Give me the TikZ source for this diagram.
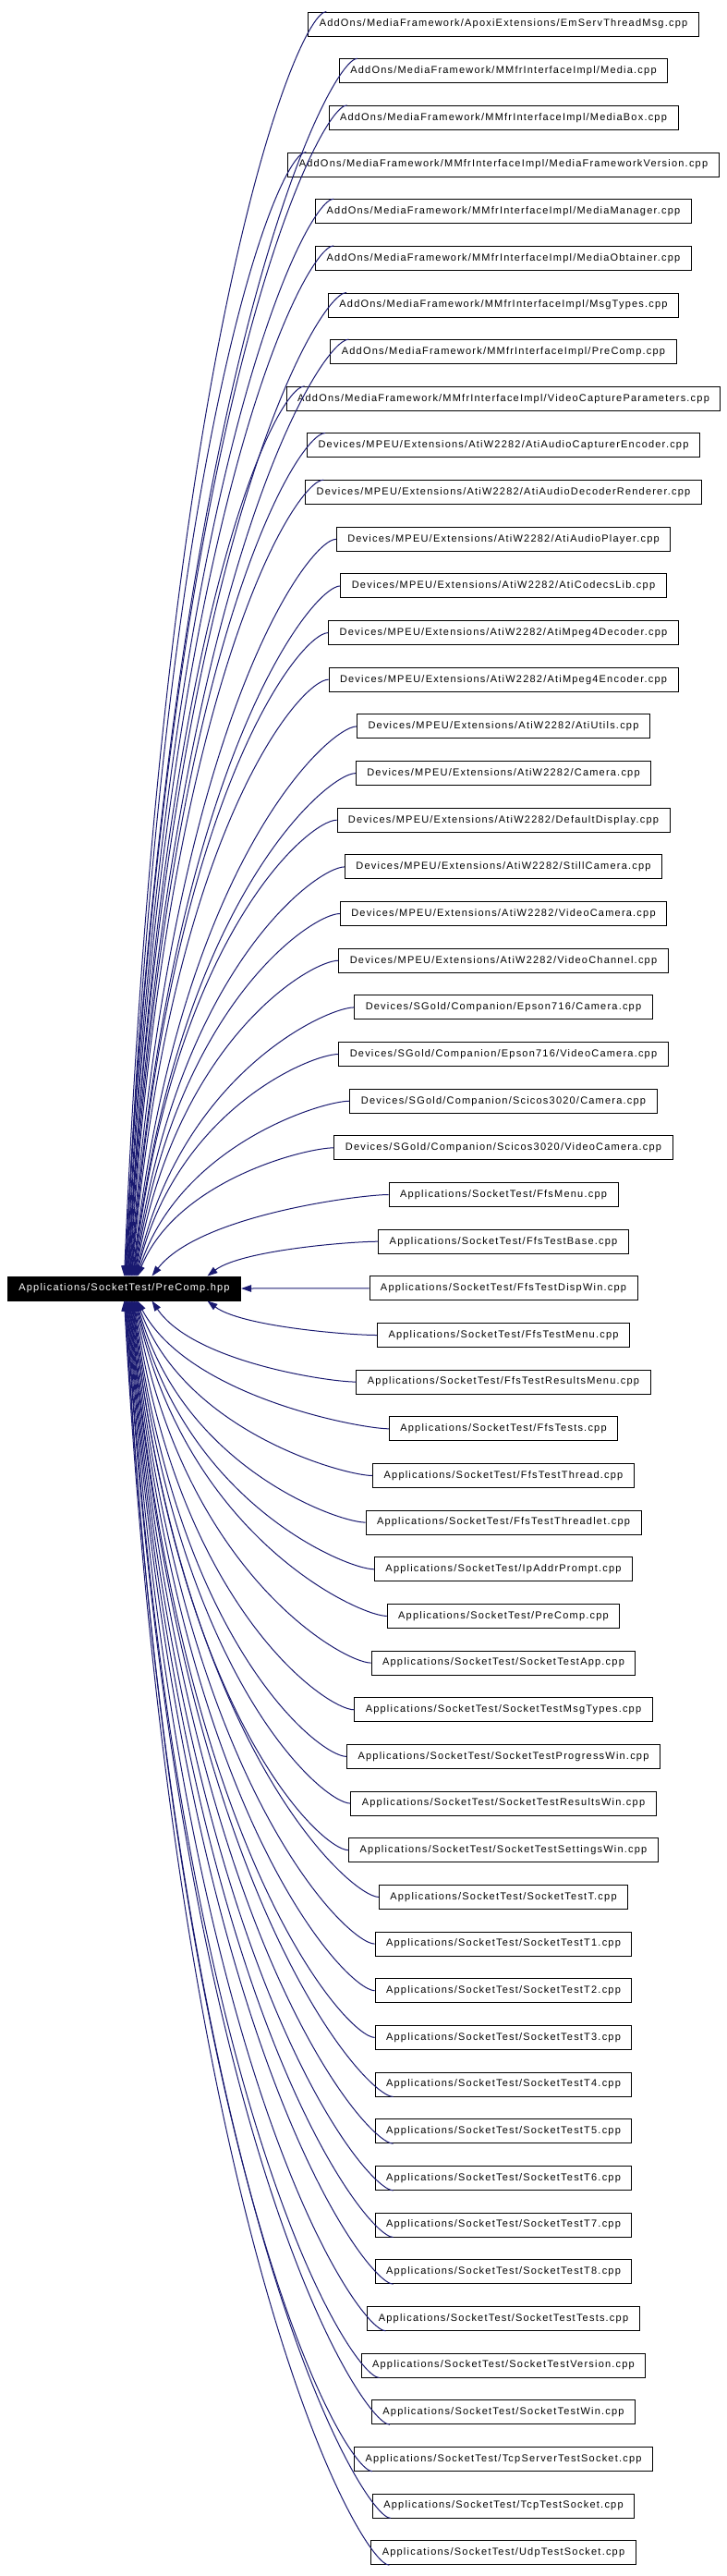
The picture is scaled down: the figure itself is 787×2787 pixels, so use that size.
\documentclass[tikz,border=0pt]{standalone}
\usepackage{fontspec}
\setmainfont{Liberation Sans}[LetterSpace=11]
\usetikzlibrary{arrows.meta,calc}
\definecolor{edgeblue}{HTML}{191970}

\begin{document}
\begin{tikzpicture}[
        x=1pt, y=1pt,
        fileblock/.style={
            rectangle,
            draw,
            line width=0.9pt,
            align=center,
            minimum height=26pt,
            font=\fontsize{11}{13}\selectfont,
            inner xsep=12pt,
            inner ysep=2pt
        },
        mainblock/.style={
            fileblock,
            fill=black,
            text=white
        },
        arrow/.style={
            {Triangle[length=11pt,width=7.5pt]}-,
            draw=edgeblue,
            line width=1pt,
            to path={let \p1=(\tikztostart), \p2=(\tikztotarget) in
                .. controls (\x1+0.2*\x2-0.2*\x1, \y1+0.75*\y2-0.75*\y1)
                and (\x2-30pt, \y2) .. (\tikztotarget) \tikztonodes}
        }
    ]

        \useasboundingbox (0,0) rectangle (787,-2787);

        \node[mainblock] (precomp) at (134.5,-1394) {Applications/SocketTest/PreComp.hpp};

        \node[fileblock] (emserv) at (545,-26.0) {AddOns/MediaFramework/ApoxiExtensions/EmServThreadMsg.cpp};
        \node[fileblock] (media) at (545,-76.7) {AddOns/MediaFramework/MMfrInterfaceImpl/Media.cpp};
        \node[fileblock] (mediabox) at (545,-127.3) {AddOns/MediaFramework/MMfrInterfaceImpl/MediaBox.cpp};
        \node[fileblock] (mfversion) at (545,-178.0) {AddOns/MediaFramework/MMfrInterfaceImpl/MediaFrameworkVersion.cpp};
        \node[fileblock] (mediamgr) at (545,-228.6) {AddOns/MediaFramework/MMfrInterfaceImpl/MediaManager.cpp};
        \node[fileblock] (obtainer) at (545,-279.3) {AddOns/MediaFramework/MMfrInterfaceImpl/MediaObtainer.cpp};
        \node[fileblock] (mfmsgtypes) at (545,-330.0) {AddOns/MediaFramework/MMfrInterfaceImpl/MsgTypes.cpp};
        \node[fileblock] (mfprecomp) at (545,-380.6) {AddOns/MediaFramework/MMfrInterfaceImpl/PreComp.cpp};
        \node[fileblock] (vidcapparams) at (545,-431.3) {AddOns/MediaFramework/MMfrInterfaceImpl/VideoCaptureParameters.cpp};
        \node[fileblock] (audcapenc) at (545,-481.9) {Devices/MPEU/Extensions/AtiW2282/AtiAudioCapturerEncoder.cpp};
        \node[fileblock] (auddecrend) at (545,-532.6) {Devices/MPEU/Extensions/AtiW2282/AtiAudioDecoderRenderer.cpp};
        \node[fileblock] (audplayer) at (545,-583.3) {Devices/MPEU/Extensions/AtiW2282/AtiAudioPlayer.cpp};
        \node[fileblock] (codecslib) at (545,-633.9) {Devices/MPEU/Extensions/AtiW2282/AtiCodecsLib.cpp};
        \node[fileblock] (mpegdec) at (545,-684.6) {Devices/MPEU/Extensions/AtiW2282/AtiMpeg4Decoder.cpp};
        \node[fileblock] (mpegenc) at (545,-735.2) {Devices/MPEU/Extensions/AtiW2282/AtiMpeg4Encoder.cpp};
        \node[fileblock] (atiutils) at (545,-785.9) {Devices/MPEU/Extensions/AtiW2282/AtiUtils.cpp};
        \node[fileblock] (aticamera) at (545,-836.6) {Devices/MPEU/Extensions/AtiW2282/Camera.cpp};
        \node[fileblock] (defdisplay) at (545,-887.2) {Devices/MPEU/Extensions/AtiW2282/DefaultDisplay.cpp};
        \node[fileblock] (stillcam) at (545,-937.9) {Devices/MPEU/Extensions/AtiW2282/StillCamera.cpp};
        \node[fileblock] (atividcam) at (545,-988.5) {Devices/MPEU/Extensions/AtiW2282/VideoCamera.cpp};
        \node[fileblock] (vidchannel) at (545,-1039.2) {Devices/MPEU/Extensions/AtiW2282/VideoChannel.cpp};
        \node[fileblock] (epscamera) at (545,-1089.9) {Devices/SGold/Companion/Epson716/Camera.cpp};
        \node[fileblock] (epsvidcam) at (545,-1140.5) {Devices/SGold/Companion/Epson716/VideoCamera.cpp};
        \node[fileblock] (sciccamera) at (545,-1191.2) {Devices/SGold/Companion/Scicos3020/Camera.cpp};
        \node[fileblock] (scicvidcam) at (545,-1241.8) {Devices/SGold/Companion/Scicos3020/VideoCamera.cpp};
        \node[fileblock] (ffsmenu) at (545,-1292.5) {Applications/SocketTest/FfsMenu.cpp};
        \node[fileblock] (ffsbase) at (545,-1343.2) {Applications/SocketTest/FfsTestBase.cpp};
        \node[fileblock] (ffsdispwin) at (545,-1393.8) {Applications/SocketTest/FfsTestDispWin.cpp};
        \node[fileblock] (ffstestmenu) at (545,-1444.5) {Applications/SocketTest/FfsTestMenu.cpp};
        \node[fileblock] (ffsresmenu) at (545,-1495.1) {Applications/SocketTest/FfsTestResultsMenu.cpp};
        \node[fileblock] (ffstests) at (545,-1545.8) {Applications/SocketTest/FfsTests.cpp};
        \node[fileblock] (ffsthread) at (545,-1596.5) {Applications/SocketTest/FfsTestThread.cpp};
        \node[fileblock] (ffsthreadlet) at (545,-1647.1) {Applications/SocketTest/FfsTestThreadlet.cpp};
        \node[fileblock] (ipprompt) at (545,-1697.8) {Applications/SocketTest/IpAddrPrompt.cpp};
        \node[fileblock] (stprecomp) at (545,-1748.4) {Applications/SocketTest/PreComp.cpp};
        \node[fileblock] (stapp) at (545,-1799.1) {Applications/SocketTest/SocketTestApp.cpp};
        \node[fileblock] (stmsgtypes) at (545,-1849.8) {Applications/SocketTest/SocketTestMsgTypes.cpp};
        \node[fileblock] (stprogwin) at (545,-1900.4) {Applications/SocketTest/SocketTestProgressWin.cpp};
        \node[fileblock] (stresultswin) at (545,-1951.1) {Applications/SocketTest/SocketTestResultsWin.cpp};
        \node[fileblock] (stsettingswin) at (545,-2001.7) {Applications/SocketTest/SocketTestSettingsWin.cpp};
        \node[fileblock] (sttestt) at (545,-2052.4) {Applications/SocketTest/SocketTestT.cpp};
        \node[fileblock] (sttest1) at (545,-2103.1) {Applications/SocketTest/SocketTestT1.cpp};
        \node[fileblock] (sttest2) at (545,-2153.7) {Applications/SocketTest/SocketTestT2.cpp};
        \node[fileblock] (sttest3) at (545,-2204.4) {Applications/SocketTest/SocketTestT3.cpp};
        \node[fileblock] (sttest4) at (545,-2255.0) {Applications/SocketTest/SocketTestT4.cpp};
        \node[fileblock] (sttest5) at (545,-2305.7) {Applications/SocketTest/SocketTestT5.cpp};
        \node[fileblock] (sttest6) at (545,-2356.4) {Applications/SocketTest/SocketTestT6.cpp};
        \node[fileblock] (sttest7) at (545,-2407.0) {Applications/SocketTest/SocketTestT7.cpp};
        \node[fileblock] (sttest8) at (545,-2457.7) {Applications/SocketTest/SocketTestT8.cpp};
        \node[fileblock] (sttests) at (545,-2508.3) {Applications/SocketTest/SocketTestTests.cpp};
        \node[fileblock] (stversion) at (545,-2559.0) {Applications/SocketTest/SocketTestVersion.cpp};
        \node[fileblock] (stwin) at (545,-2609.7) {Applications/SocketTest/SocketTestWin.cpp};
        \node[fileblock] (tcpserver) at (545,-2660.3) {Applications/SocketTest/TcpServerTestSocket.cpp};
        \node[fileblock] (tcptest) at (545,-2711.0) {Applications/SocketTest/TcpTestSocket.cpp};
        \node[fileblock] (udptest) at (545,-2761.7) {Applications/SocketTest/UdpTestSocket.cpp};

        % files above the header
        \draw[arrow] ([xshift=0pt]precomp.north) to ([xshift=20pt]emserv.north west);
        \draw[arrow] ([xshift=0.6pt]precomp.north) to ([xshift=20pt]media.north west);
        \draw[arrow] ([xshift=1.2pt]precomp.north) to ([xshift=20pt]mediabox.north west);
        \draw[arrow] ([xshift=1.8pt]precomp.north) to ([xshift=20pt]mfversion.north west);
        \draw[arrow] ([xshift=2.4pt]precomp.north) to ([xshift=20pt]mediamgr.north west);
        \draw[arrow] ([xshift=3.0pt]precomp.north) to ([xshift=20pt]obtainer.north west);
        \draw[arrow] ([xshift=3.6pt]precomp.north) to ([xshift=20pt]mfmsgtypes.north west);
        \draw[arrow] ([xshift=4.2pt]precomp.north) to ([xshift=20pt]mfprecomp.north west);
        \draw[arrow] ([xshift=4.8pt]precomp.north) to ([xshift=20pt]vidcapparams.north west);
        \draw[arrow] ([xshift=5.4pt]precomp.north) to ([xshift=20pt]audcapenc.north west);
        \draw[arrow] ([xshift=6.0pt]precomp.north) to ([xshift=20pt]auddecrend.north west);
        \draw[arrow] ([xshift=6.6pt]precomp.north) to (audplayer.west);
        \draw[arrow] ([xshift=7.2pt]precomp.north) to (codecslib.west);
        \draw[arrow] ([xshift=7.8pt]precomp.north) to (mpegdec.west);
        \draw[arrow] ([xshift=8.4pt]precomp.north) to (mpegenc.west);
        \draw[arrow] ([xshift=9.0pt]precomp.north) to (atiutils.west);
        \draw[arrow] ([xshift=9.6pt]precomp.north) to (aticamera.west);
        \draw[arrow] ([xshift=10.2pt]precomp.north) to (defdisplay.west);
        \draw[arrow] ([xshift=10.8pt]precomp.north) to (stillcam.west);
        \draw[arrow] ([xshift=11.4pt]precomp.north) to (atividcam.west);
        \draw[arrow] ([xshift=12.0pt]precomp.north) to (vidchannel.west);
        \draw[arrow] ([xshift=12.6pt]precomp.north) to (epscamera.west);
        \draw[arrow] ([xshift=13.2pt]precomp.north) to (epsvidcam.west);
        \draw[arrow] ([xshift=13.8pt]precomp.north) to (sciccamera.west);
        \draw[arrow] ([xshift=14.4pt]precomp.north) to (scicvidcam.west);
        \draw[arrow] ([xshift=30pt]precomp.north) to (ffsmenu.west);
        \draw[arrow] ([xshift=90pt]precomp.north) to (ffsbase.west);

        \draw[arrow] (precomp.east) -- (ffsdispwin.west);

        % files below the header
        \draw[arrow] ([xshift=90pt]precomp.south) to (ffstestmenu.west);
        \draw[arrow] ([xshift=30pt]precomp.south) to (ffsresmenu.west);
        \draw[arrow] ([xshift=14.4pt]precomp.south) to (ffstests.west);
        \draw[arrow] ([xshift=13.8pt]precomp.south) to (ffsthread.west);
        \draw[arrow] ([xshift=13.2pt]precomp.south) to (ffsthreadlet.west);
        \draw[arrow] ([xshift=12.6pt]precomp.south) to (ipprompt.west);
        \draw[arrow] ([xshift=12.0pt]precomp.south) to (stprecomp.west);
        \draw[arrow] ([xshift=11.4pt]precomp.south) to (stapp.west);
        \draw[arrow] ([xshift=10.8pt]precomp.south) to (stmsgtypes.west);
        \draw[arrow] ([xshift=10.2pt]precomp.south) to (stprogwin.west);
        \draw[arrow] ([xshift=9.6pt]precomp.south) to (stresultswin.west);
        \draw[arrow] ([xshift=9.0pt]precomp.south) to (stsettingswin.west);
        \draw[arrow] ([xshift=8.4pt]precomp.south) to (sttestt.west);
        \draw[arrow] ([xshift=7.8pt]precomp.south) to (sttest1.west);
        \draw[arrow] ([xshift=7.2pt]precomp.south) to (sttest2.west);
        \draw[arrow] ([xshift=6.6pt]precomp.south) to (sttest3.west);
        \draw[arrow] ([xshift=6.0pt]precomp.south) to ([xshift=20pt]sttest4.south west);
        \draw[arrow] ([xshift=5.4pt]precomp.south) to ([xshift=20pt]sttest5.south west);
        \draw[arrow] ([xshift=4.8pt]precomp.south) to ([xshift=20pt]sttest6.south west);
        \draw[arrow] ([xshift=4.2pt]precomp.south) to ([xshift=20pt]sttest7.south west);
        \draw[arrow] ([xshift=3.6pt]precomp.south) to ([xshift=20pt]sttest8.south west);
        \draw[arrow] ([xshift=3.0pt]precomp.south) to ([xshift=20pt]sttests.south west);
        \draw[arrow] ([xshift=2.4pt]precomp.south) to ([xshift=20pt]stversion.south west);
        \draw[arrow] ([xshift=1.8pt]precomp.south) to ([xshift=20pt]stwin.south west);
        \draw[arrow] ([xshift=1.2pt]precomp.south) to ([xshift=20pt]tcpserver.south west);
        \draw[arrow] ([xshift=0.6pt]precomp.south) to ([xshift=20pt]tcptest.south west);
        \draw[arrow] ([xshift=0pt]precomp.south) to ([xshift=20pt]udptest.south west);

    \end{tikzpicture}
\end{document}
